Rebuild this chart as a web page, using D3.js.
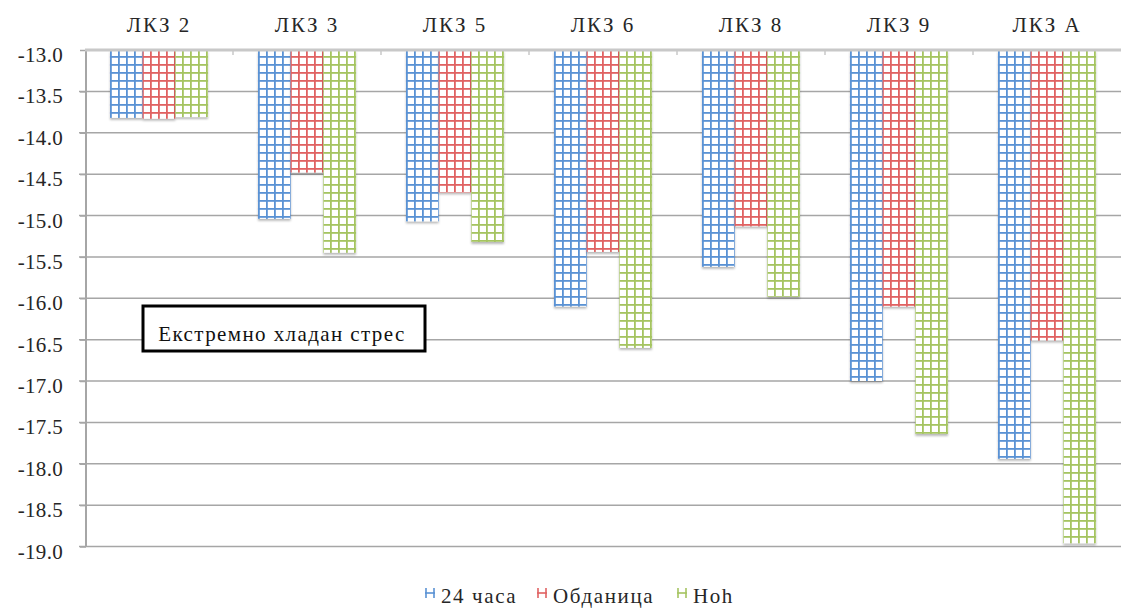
<!DOCTYPE html>
<html><head><meta charset="utf-8">
<script src="https://cdn.jsdelivr.net/npm/d3@7"></script>
<style>html,body{margin:0;padding:0;background:#fff;}svg{display:block;}
text{font-family:"Liberation Serif","Times New Roman",serif;}</style>
</head><body>
<svg id="chart" width="1121" height="609"></svg>
<script>
const categories = ["ЛКЗ 2","ЛКЗ 3","ЛКЗ 5","ЛКЗ 6","ЛКЗ 8","ЛКЗ 9","ЛКЗ A"];
const seriesNames = ["24 часа","Обданица","Hoh"];
const series24 = [-13.82,-15.04,-15.07,-16.10,-15.62,-17.00,-17.94];
const seriesObd = [-13.83,-14.48,-14.72,-15.44,-15.13,-16.10,-16.51];
const seriesHoh = [-13.81,-15.45,-15.32,-16.60,-15.98,-17.64,-18.96];
const yTicks = [-13.0,-13.5,-14.0,-14.5,-15.0,-15.5,-16.0,-16.5,-17.0,-17.5,-18.0,-18.5,-19.0];
const annotation = "Екстремно хладан стрес";

const colors = ["#5a92d4","#e06262","#a5c461"];
const seriesValues = [series24, seriesObd, seriesHoh];

const svg = d3.select("#chart");

const x0 = d3.scaleBand().domain(categories).range([85,1121]).paddingInner(0).paddingOuter(0);
const x1 = d3.scaleBand().domain(seriesNames).range([0,x0.bandwidth()]).paddingInner(0).paddingOuter(0.765);
const y = d3.scaleLinear().domain([-13,-19]).range([50,546.5]);

const defs = svg.append("defs");
colors.forEach((c,i)=>{
  const p = defs.append("pattern").attr("id","pat"+i).attr("patternUnits","userSpaceOnUse")
    .attr("width",8).attr("height",8).attr("x",1);
  p.append("rect").attr("width",8).attr("height",8).attr("fill","#fff");
  p.append("rect").attr("x",0).attr("y",0).attr("width",1.8).attr("height",8).attr("fill",c);
  p.append("rect").attr("x",0).attr("y",0).attr("width",8).attr("height",1.8).attr("fill",c);
});
const f = defs.append("filter").attr("id","sh").attr("x","-10%").attr("y","-10%").attr("width","130%").attr("height","130%");
f.append("feDropShadow").attr("dx",0).attr("dy",2).attr("stdDeviation",1.2).attr("flood-color","#000").attr("flood-opacity",0.28);

// gridlines
svg.append("g").selectAll("line").data(yTicks.slice(1)).join("line")
  .attr("x1",79).attr("x2",1121).attr("y1",d=>y(d)).attr("y2",d=>y(d))
  .attr("stroke","#a6a6a6").attr("stroke-width",1.5);

// y axis
const yAxis = d3.axisLeft(y).tickValues(yTicks).tickFormat(d3.format(".1f")).tickSize(6).tickPadding(17);
const gy = svg.append("g").attr("transform","translate(86,0)").call(yAxis);
gy.attr("font-family",null);
gy.select(".domain").attr("stroke","#a6a6a6").attr("stroke-width",2).attr("d","M0,50V546.5");
gy.selectAll(".tick line").attr("stroke","#a6a6a6").attr("stroke-width",1.5);
gy.selectAll(".tick text").attr("font-size",21).attr("fill","#262626").attr("dy","0.55em")
  .attr("letter-spacing",0.3)
  .text(d=>d3.format(".1f")(d).replace("−","-"));

// bars
const groups = svg.append("g").selectAll("g").data(categories).join("g")
  .attr("transform",d=>`translate(${x0(d)},0)`);
groups.selectAll("rect").data((d,ci)=>seriesNames.map((s,si)=>({s,si,v:seriesValues[si][ci]}))).join("rect")
  .attr("x",d=>x1(d.s)).attr("width",x1.bandwidth())
  .attr("y",y(-13)).attr("height",d=>y(d.v)-y(-13))
  .attr("fill",d=>`url(#pat${d.si})`).attr("filter","url(#sh)");

// category axis at top
const xAxis = d3.axisTop(x0).tickSize(0).tickPadding(18);
const gx = svg.append("g").attr("transform","translate(0,50)").call(xAxis);
gx.attr("font-family",null);
gx.select(".domain").attr("stroke","#c8c8c8").attr("stroke-width",3).attr("d","M85,0H1121");
gx.selectAll(".tick text").attr("font-size",21).attr("fill","#262626").attr("letter-spacing",2);
svg.append("g").selectAll("line").data(categories.slice(1)).join("line")
  .attr("x1",d=>x0(d)).attr("x2",d=>x0(d)).attr("y1",50).attr("y2",55)
  .attr("stroke","#c8c8c8").attr("stroke-width",1.5);

// annotation
svg.append("rect").attr("x",143).attr("y",306).attr("width",282).attr("height",45)
  .attr("fill","#fff").attr("stroke","#000").attr("stroke-width",3);
svg.append("text").attr("x",282).attr("y",341).attr("text-anchor","middle")
  .attr("font-size",21).attr("letter-spacing",1.4).attr("fill","#111").text(annotation);

// legend
const legendX = [425,537,677];
const lg = svg.append("g").selectAll("g").data(seriesNames).join("g")
  .attr("transform",(d,i)=>`translate(${legendX[i]},588)`);
lg.each(function(d,i){
  const g = d3.select(this);
  g.append("line").attr("x1",1).attr("x2",1).attr("y1",0).attr("y2",10).attr("stroke",colors[i]).attr("stroke-width",1.6);
  g.append("line").attr("x1",9).attr("x2",9).attr("y1",0).attr("y2",10).attr("stroke",colors[i]).attr("stroke-width",1.6);
  g.append("line").attr("x1",0).attr("x2",10).attr("y1",5).attr("y2",5).attr("stroke",colors[i]).attr("stroke-width",1.6);
});
lg.append("text").attr("x",16).attr("y",15).attr("font-size",21).attr("letter-spacing",1.6)
  .attr("fill","#262626").text(d=>d);
</script>
</body></html>
